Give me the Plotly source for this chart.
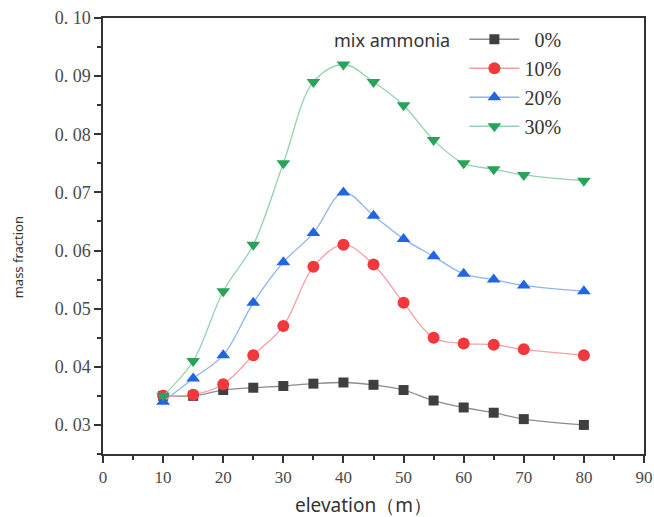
import plotly.graph_objects as go

elevation = [10, 15, 20, 25, 30, 35, 40, 45, 50, 55, 60, 65, 70, 80]
mix_0 = [0.0350, 0.0350, 0.0360, 0.0364, 0.0367, 0.0371, 0.0373, 0.0369, 0.0360, 0.0342, 0.0330, 0.0321, 0.0310, 0.0300]
mix_10 = [0.0350, 0.0352, 0.0370, 0.0420, 0.0470, 0.0572, 0.0610, 0.0576, 0.0510, 0.0450, 0.0440, 0.0438, 0.0430, 0.0420]
mix_20 = [0.0340, 0.0380, 0.0420, 0.0510, 0.0580, 0.0630, 0.0700, 0.0660, 0.0620, 0.0590, 0.0560, 0.0550, 0.0540, 0.0530]
mix_30 = [0.0350, 0.0410, 0.0530, 0.0610, 0.0750, 0.0890, 0.0920, 0.0890, 0.0850, 0.0790, 0.0750, 0.0740, 0.0730, 0.0720]

series_names = ["\u20070%", "10%", "20%", "30%"]
series_values = [mix_0, mix_10, mix_20, mix_30]
marker_colors = ["#3f3f3f", "#f0383d", "#1f66e0", "#2ba25a"]
line_colors = ["#8c8c8c", "#f4a0a2", "#8fb2ef", "#93d3ab"]
symbols = ["square", "circle", "triangle-up", "triangle-down"]
sizes = [10, 12, 12, 12]

y_ticks = [0.03, 0.04, 0.05, 0.06, 0.07, 0.08, 0.09, 0.10]
y_tick_text = ["0. 03", "0. 04", "0. 05", "0. 06", "0. 07", "0. 08", "0. 09", "0. 10"]
x_ticks = [0, 10, 20, 30, 40, 50, 60, 70, 80, 90]

fig = go.Figure()
for name, vals, mc, lc, sym, sz in zip(series_names, series_values, marker_colors, line_colors, symbols, sizes):
    fig.add_trace(go.Scatter(
        x=elevation, y=vals, name=name, mode="lines+markers",
        line=dict(color=lc, width=1.3, shape="spline", smoothing=1),
        marker=dict(color=mc, symbol=sym, size=sz, line=dict(width=0)),
    ))

serif = "Liberation Serif"
sans = "Noto Sans"
axis_color = "#333333"
tick_color = "#4a4a4a"

# plot area in figure pixels: x 103..644, y 18..454
fig.add_annotation(
    text="mix ammonia", xref="paper", yref="paper", x=0.645, y=0.9495,
    xanchor="right", yanchor="middle", showarrow=False,
    font=dict(family=sans, size=18, color="#333333"),
)
fig.add_annotation(
    text="elevation（m）", xref="paper", yref="paper", x=0.481, y=-0.1165,
    xanchor="center", yanchor="middle", showarrow=False,
    font=dict(family=sans, size=19, color="#333333"),
)
fig.add_annotation(
    text="mass fraction", xref="paper", yref="paper", x=-0.158, y=0.45,
    xanchor="center", yanchor="middle", showarrow=False, textangle=-90,
    font=dict(family=sans, size=13, color="#333333"),
)

fig.update_layout(
    width=654, height=517,
    margin=dict(l=103, r=10, t=18, b=63, autoexpand=False),
    paper_bgcolor="white", plot_bgcolor="white",
    showlegend=True,
    legend=dict(
        x=0.668, y=0.996, xanchor="left", yanchor="top",
        bgcolor="rgba(0,0,0,0)",
        font=dict(family=serif, size=20, color="#333333"),
        itemwidth=50, tracegroupgap=0,
    ),
    xaxis=dict(
        range=[0, 90], tickvals=x_ticks, ticks="outside", ticklen=7, tickwidth=1.5,
        tickcolor=axis_color, showline=True, linecolor=axis_color, linewidth=1.5,
        mirror=True, showgrid=False, zeroline=False, automargin=False,
        tickfont=dict(family=serif, size=17, color=tick_color),
        minor=dict(dtick=5, ticks="outside", ticklen=4, tickwidth=1.5, tickcolor=axis_color, showgrid=False),
    ),
    yaxis=dict(
        range=[0.025, 0.10], tickvals=y_ticks, ticktext=y_tick_text, ticks="outside", ticklen=7,
        tickwidth=1.5, tickcolor=axis_color, showline=True, linecolor=axis_color, linewidth=1.5,
        mirror=True, showgrid=False, zeroline=False, automargin=False,
        tickfont=dict(family=serif, size=18, color=tick_color),
        minor=dict(dtick=0.005, tick0=0.025, ticks="outside", ticklen=4, tickwidth=1.5, tickcolor=axis_color, showgrid=False),
    ),
)

fig.write_html(
    "out.html",
    config={"displayModeBar": False},
    post_script="document.body.style.margin='0';document.body.style.overflow='hidden';",
)
